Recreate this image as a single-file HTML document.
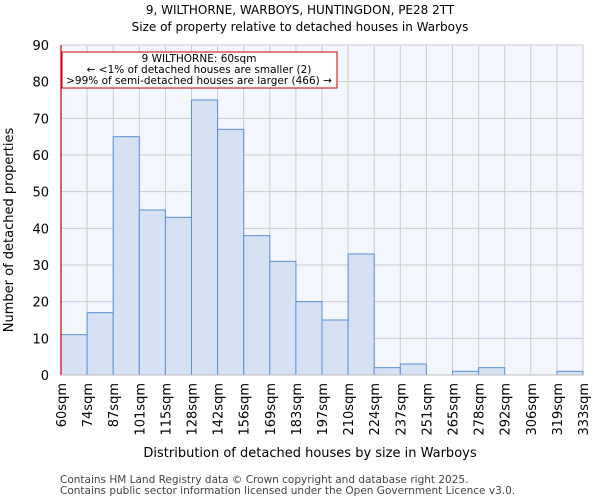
<!DOCTYPE html>
<html><head><meta charset="utf-8"><style>
body{margin:0;background:#fff;font-family:"DejaVu Sans","Liberation Sans",sans-serif;}
</style></head><body>
<svg width="600" height="500" xmlns="http://www.w3.org/2000/svg" font-family="DejaVu Sans, Liberation Sans, sans-serif">
<text x="300" y="14" text-anchor="middle" font-size="12">9, WILTHORNE, WARBOYS, HUNTINGDON, PE28 2TT</text>
<text x="300" y="31" text-anchor="middle" font-size="12">Size of property relative to detached houses in Warboys</text>
<rect x="61" y="45" width="522" height="330" fill="#f3f6fc"/>
<g id="grid"></g>
<g id="bars"></g>
<g id="yticks"></g>
<g id="xticks"></g>
<line x1="61" y1="45" x2="61" y2="375" stroke="#cc0000" stroke-width="1.2"/>
<g>
<rect x="62" y="52" width="275" height="36" fill="#fff" stroke="#cc0000" stroke-width="1"/>
<text x="199" y="62" text-anchor="middle" font-size="10.5">9 WILTHORNE: 60sqm</text>
<text x="199" y="73" text-anchor="middle" font-size="10.5">← &lt;1% of detached houses are smaller (2)</text>
<text x="199" y="84" text-anchor="middle" font-size="10.5">&gt;99% of semi-detached houses are larger (466) →</text>
</g>
<text x="310" y="457" text-anchor="middle" font-size="13">Distribution of detached houses by size in Warboys</text>
<text transform="translate(13,230) rotate(-90)" text-anchor="middle" font-size="13">Number of detached properties</text>
<text x="60" y="483" font-size="10.5" fill="#444">Contains HM Land Registry data © Crown copyright and database right 2025.</text>
<text x="60" y="494" font-size="10.5" fill="#444">Contains public sector information licensed under the Open Government Licence v3.0.</text>
</svg>
<script>
const categories=["60sqm","74sqm","87sqm","101sqm","115sqm","128sqm","142sqm","156sqm","169sqm","183sqm","197sqm","210sqm","224sqm","237sqm","251sqm","265sqm","278sqm","292sqm","306sqm","319sqm","333sqm"];
const counts=[11,17,65,45,43,75,67,38,31,20,15,33,2,3,0,1,2,0,0,1];
const yTicks=[0,10,20,30,40,50,60,70,80,90];
const NS="http://www.w3.org/2000/svg";
const X0=61,X1=583,Y0=375,Y1=45,YMAX=90;
const nb=counts.length;
const bw=(X1-X0)/nb;
const xs=i=>X0+i*bw;
const ys=v=>Y0-(v/YMAX)*(Y0-Y1);
function mk(t,a){const e=document.createElementNS(NS,t);for(const k in a)e.setAttribute(k,a[k]);return e;}
const grid=document.getElementById('grid'),bars=document.getElementById('bars'),yt=document.getElementById('yticks'),xt=document.getElementById('xticks');
for(let i=0;i<=nb;i++){const l=mk('line',{x1:xs(i),x2:xs(i),y1:Y1,y2:Y0,stroke:'#cccccc','stroke-width':1});


grid.appendChild(l);}
yTicks.forEach(v=>{const l=mk('line',{x1:X0,x2:X1,y1:ys(v),y2:ys(v),stroke:'#cccccc','stroke-width':1});


grid.appendChild(l);
const t=mk('text',{x:X0-12,y:ys(v)+5,'text-anchor':'end','font-size':13});t.textContent=v;


yt.appendChild(t);});
counts.forEach((c,i)=>{if(c<=0)return;const r=mk('rect',{x:xs(i),y:ys(c),width:bw,height:Y0-ys(c),fill:'#d6e1f3',stroke:'#5b8fd6','stroke-width':1});


bars.appendChild(r);});
const ax=mk('line',{x1:X0,x2:X1,y1:Y0,y2:Y0,stroke:'#bbbbbb','stroke-width':1});


xt.appendChild(ax);
categories.forEach((c,i)=>{const x=xs(i);const t=mk('text',{transform:`translate(${x+5},383) rotate(-90)`,'text-anchor':'end','font-size':13});t.textContent=c;


xt.appendChild(t);});
</script>
</body></html>
